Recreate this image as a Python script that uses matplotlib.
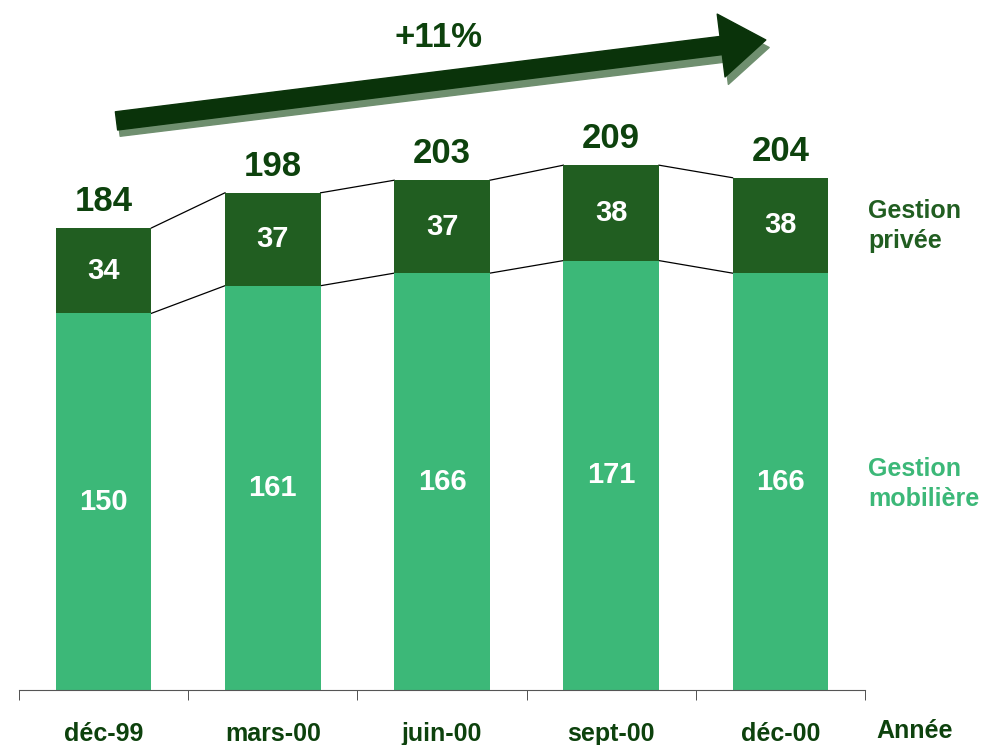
import matplotlib.pyplot as plt
from matplotlib.patches import FancyArrowPatch
import numpy as np

# Data
periods = ['déc-99', 'mars-00', 'juin-00', 'sept-00', 'déc-00']
gestion_mobiliere = [150, 161, 166, 171, 166]
gestion_privee = [34, 37, 37, 38, 38]
totals = [184, 198, 203, 209, 204]
growth_label = '+11%'

light_green = '#3cb878'
dark_green = '#215e21'
text_green = '#0d420d'

plt.rcParams['font.family'] = ['Liberation Sans', 'DejaVu Sans']
plt.rcParams['font.weight'] = 'bold'

fig = plt.figure(figsize=(9.9, 7.45), dpi=100)
ax = fig.add_axes([19 / 990, 55 / 745, 846 / 990, 678 / 745])

x = np.arange(len(periods))
w = 0.565
ax.bar(x, gestion_mobiliere, width=w, color=light_green, zorder=2)
ax.bar(x, gestion_privee, width=w, bottom=gestion_mobiliere, color=dark_green, zorder=2)

# connecting lines between bars
for i in range(len(x) - 1):
    ax.plot([x[i] + w / 2, x[i + 1] - w / 2], [totals[i], totals[i + 1]],
            color='black', lw=0.9, zorder=1)
    ax.plot([x[i] + w / 2, x[i + 1] - w / 2],
            [gestion_mobiliere[i], gestion_mobiliere[i + 1]],
            color='black', lw=0.9, zorder=1)

# value labels
for i in range(len(x)):
    ax.text(x[i], gestion_mobiliere[i] / 2, str(gestion_mobiliere[i]),
            ha='center', va='center', color='white', fontsize=21, fontweight='bold')
    ax.text(x[i], gestion_mobiliere[i] + gestion_privee[i] / 2, str(gestion_privee[i]),
            ha='center', va='center', color='white', fontsize=21, fontweight='bold')
    ax.text(x[i], totals[i] + 4, str(totals[i]), ha='center', va='bottom',
            color=text_green, fontsize=25, fontweight='bold')

ax.set_xlim(-0.5, 4.5)
ax.set_ylim(0, 270)

# growth arrow with shadow
style = 'simple,head_length=2.7,head_width=3.8,tail_width=1.1'
shadow = FancyArrowPatch((0.075, 224), (3.95, 256), arrowstyle=style,
                         mutation_scale=12, color='#6f8f6f', clip_on=False, zorder=3)
ax.add_patch(shadow)
arrow = FancyArrowPatch((0.06, 226.5), (3.93, 259), arrowstyle=style,
                        mutation_scale=12, color='#0a330a', clip_on=False, zorder=4)
ax.add_patch(arrow)
ax.text(1.98, 260, growth_label, ha='center', va='center', color=text_green,
        fontsize=25, fontweight='bold')

# axes styling
for s in ['left', 'right', 'top']:
    ax.spines[s].set_visible(False)
ax.spines['bottom'].set_color('#555555')
ax.set_yticks([])
ax.set_xticks(x)
ax.set_xticklabels(periods, fontsize=18, fontweight='bold', color=text_green)
ax.tick_params(axis='x', which='major', length=0, pad=23)
ax.set_xticks(np.arange(-0.5, 5.0, 1.0), minor=True)
ax.tick_params(axis='x', which='minor', length=7, color='#333333')

# side labels
fig.text(868 / 990, 1 - 226 / 745, 'Gestion\nprivée', ha='left', va='center',
         color=dark_green, fontsize=18, fontweight='bold', linespacing=1.3)
fig.text(868 / 990, 1 - 484 / 745, 'Gestion\nmobilière', ha='left', va='center',
         color=light_green, fontsize=18, fontweight='bold', linespacing=1.3)
fig.text(876 / 990, 1 - 731 / 745, 'Année', ha='left', va='center',
         color=text_green, fontsize=18, fontweight='bold')

fig.savefig('out.png', dpi=100)
